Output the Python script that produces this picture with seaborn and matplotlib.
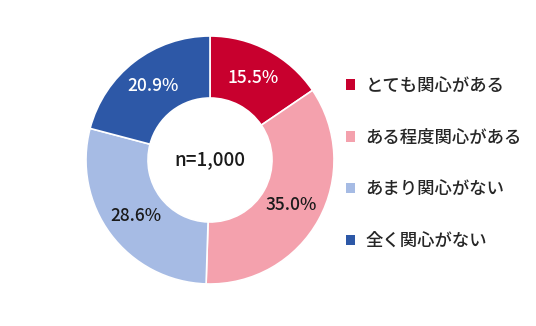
import matplotlib
matplotlib.use("Agg")
import matplotlib.pyplot as plt
import seaborn as sns
from matplotlib.patches import Patch

categories = ["とても関心がある", "ある程度関心がある", "あまり関心がない", "全く関心がない"]
values = [15.5, 35.0, 28.6, 20.9]
colors = ["#C8002E", "#F4A1AD", "#A6BBE4", "#2D58A7"]
label_colors = ["white", "#1a1a1a", "#1a1a1a", "white"]
center_text = "n=1,000"

sns.set_theme(style="white")
plt.rcParams['font.family'] = ['Noto Sans CJK JP', 'DejaVu Sans']

fig = plt.figure(figsize=(5.36, 3.26), dpi=100)
ax = fig.add_axes([86/536, (166-124)/326, 248/536, 248/326])

wedges, texts, autotexts = ax.pie(
    values, colors=colors, startangle=90, counterclock=False,
    autopct=lambda p: f"{p:.1f}%", pctdistance=0.75,
    wedgeprops=dict(width=0.5, edgecolor="white", linewidth=1.2),
    textprops=dict(fontsize=12.5, fontweight="medium"))
for t, c in zip(autotexts, label_colors):
    t.set_color(c)
ax.text(0, 0, center_text, ha="center", va="center", fontsize=13.5,
        fontweight="medium", color="#1a1a1a")
ax.set_xlim(-1, 1)
ax.set_ylim(-1, 1)
ax.set_aspect("equal")

handles = [Patch(facecolor=c, edgecolor="none") for c in colors]
leg = fig.legend(handles, categories, loc="upper left", bbox_to_anchor=(330/536, 1 - 61/326),
                 frameon=False, fontsize=12.5, labelspacing=1.95, handlelength=0.55,
                 handleheight=0.55, handletextpad=0.6, labelcolor="#262626")
for t in leg.get_texts():
    t.set_fontweight("medium")

fig.savefig("out.png", dpi=100, facecolor="white")
